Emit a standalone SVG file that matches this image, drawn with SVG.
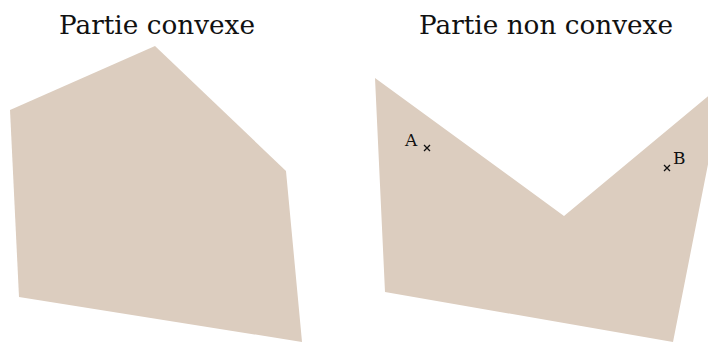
<svg xmlns="http://www.w3.org/2000/svg" width="708" height="342" viewBox="0 0 708 342">
<style>
.region{fill:#dccdbf;stroke:none}
.title{font-family:"DejaVu Serif","Liberation Serif",serif;font-size:26.3px;fill:#111;text-anchor:middle}
.lbl{font-family:"DejaVu Serif","Liberation Serif",serif;font-size:17px;fill:#111}
.cross{stroke:#111;stroke-width:1.3;fill:none}
</style>
<rect width="708" height="342" fill="#fff"/>
<g id="convexe">
<polygon class="region" points="10,110 155,46 286,171 302,342 19,297"/>
<text class="title" x="157" y="34">Partie convexe</text>
</g>
<g id="non-convexe">
<polygon class="region" points="375,78 564,216 724,83 673,342 385,292"/>
<text class="title" x="546" y="34">Partie non convexe</text>
</g>
<g id="pointA">
<path class="cross" d="M424,145 l6,6 M430,145 l-6,6"/>
<text class="lbl" x="405" y="146">A</text>
</g>
<g id="pointB">
<path class="cross" d="M664,165 l6,6 M670,165 l-6,6"/>
<text class="lbl" x="673" y="164">B</text>
</g>
</svg>
